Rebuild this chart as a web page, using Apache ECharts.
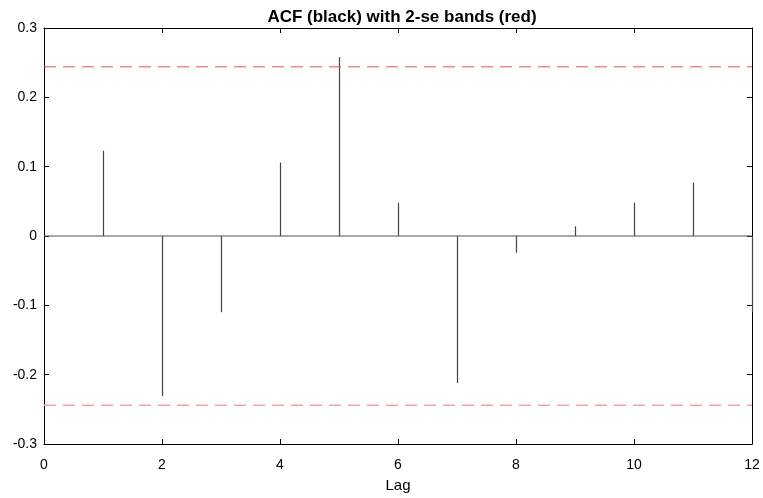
<!DOCTYPE html>
<html>
<head>
<meta charset="utf-8">
<script src="https://cdn.jsdelivr.net/npm/echarts@6/dist/echarts.min.js"></script>
<style>html,body{margin:0;padding:0;background:#fff;}#c{width:763px;height:498px;}</style>
</head>
<body>
<div id="c"></div>
<script>
const lags = [1, 2, 3, 4, 5, 6, 7, 8, 9, 10, 11, 12];
const acf = [0.123, -0.231, -0.110, 0.106, 0.258, 0.048, -0.212, -0.024, 0.014, 0.048, 0.077, -0.110];
const upperBand = 0.244;
const lowerBand = -0.244;
const xTicks = [0, 2, 4, 6, 8, 10, 12];
const yTicks = [-0.3, -0.2, -0.1, 0, 0.1, 0.2, 0.3];

const chart = echarts.init(document.getElementById('c'), null, {renderer: 'canvas'});
const font = 'Liberation Sans, Arial, Helvetica, sans-serif';
const spikeData = lags.map((l, i) => [l, acf[i]]);

const axisCommon = {
  min: 0, max: 12, interval: 2,
  axisLine: {show: true, onZero: false, lineStyle: {color: '#000', width: 1}},
  axisTick: {show: true, inside: true, length: 5, lineStyle: {color: '#000'}},
  splitLine: {show: false}
};
const yCommon = {
  min: -0.3, max: 0.3, interval: 0.1,
  axisLine: {show: true, onZero: false, lineStyle: {color: '#000', width: 1}},
  axisTick: {show: true, inside: true, length: 5, lineStyle: {color: '#000'}},
  splitLine: {show: false}
};

chart.setOption({
  animation: false,
  backgroundColor: '#fff',
  title: {
    text: 'ACF (black) with 2-se bands (red)',
    left: 397, top: 4, textAlign: 'center',
    textStyle: {fontFamily: font, fontSize: 17, fontWeight: 'bold', color: '#000'}
  },
  grid: {left: 44, right: 11, top: 28, bottom: 48},
  xAxis: [
    Object.assign({}, axisCommon, {
      type: 'value', position: 'bottom',
      name: 'Lag', nameLocation: 'middle', nameGap: 34,
      nameTextStyle: {fontFamily: font, fontSize: 15, color: '#000'},
      axisLabel: {show: true, margin: 14, fontFamily: font, fontSize: 14, color: '#000',
        formatter: v => xTicks.includes(v) ? String(v) : ''}
    }),
    Object.assign({}, axisCommon, {
      type: 'value', position: 'top', axisLabel: {show: false}
    })
  ],
  yAxis: [
    Object.assign({}, yCommon, {
      type: 'value', position: 'left',
      axisLabel: {show: true, margin: 7, fontFamily: font, fontSize: 14, color: '#000',
        formatter: v => {
          const r = Math.round(v * 10) / 10;
          return yTicks.includes(r) ? (r === 0 ? '0' : String(r)) : '';
        }}
    }),
    Object.assign({}, yCommon, {
      type: 'value', position: 'right', axisLabel: {show: false}
    })
  ],
  series: [
    {
      type: 'line', xAxisIndex: 0, yAxisIndex: 0, symbol: 'none', silent: true,
      data: [[0, upperBand], [12, upperBand]],
      lineStyle: {color: '#e05555', width: 1, type: [12, 7]}
    },
    {
      type: 'line', xAxisIndex: 0, yAxisIndex: 0, symbol: 'none', silent: true,
      data: [[0, lowerBand], [12, lowerBand]],
      lineStyle: {color: '#f5a0a0', width: 1.5, type: [12, 7]}
    },
    {
      type: 'line', xAxisIndex: 0, yAxisIndex: 0, symbol: 'none', silent: true,
      data: [[0, 0], [12, 0]],
      lineStyle: {color: '#555', width: 1.2}
    },
    {
      type: 'custom', xAxisIndex: 0, yAxisIndex: 0, silent: true,
      data: spikeData,
      renderItem: function (params, api) {
        const p0 = api.coord([api.value(0), 0]);
        const p1 = api.coord([api.value(0), api.value(1)]);
        return {
          type: 'line',
          shape: {x1: Math.round(p0[0]) + 0.5, y1: p0[1], x2: Math.round(p1[0]) + 0.5, y2: p1[1]},
          style: {stroke: '#444', lineWidth: 1.2}
        };
      }
    }
  ]
});
</script>
</body>
</html>
